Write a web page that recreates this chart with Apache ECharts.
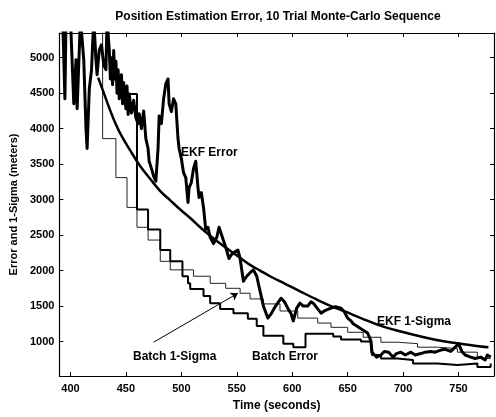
<!DOCTYPE html>
<html>
<head>
<meta charset="utf-8">
<script src="https://cdn.jsdelivr.net/npm/echarts@6/dist/echarts.min.js"></script>
<style>
  html, body { margin: 0; padding: 0; background: #fff; }
  #chart { width: 496px; height: 417px; }
</style>
</head>
<body>
<div id="chart"></div>
<script>
// tick values
var xTicks = [400, 450, 500, 550, 600, 650, 700, 750];
var yTicks = [1000, 1500, 2000, 2500, 3000, 3500, 4000, 4500, 5000];

// EKF error (noisy)
var ekfErrT = [393, 395, 396, 400, 403, 405, 406, 409, 412, 414,
  415, 417, 419, 421, 423, 424, 426, 428, 430, 432,
  433, 435, 436, 437, 438, 439, 440, 441, 442, 443,
  444, 446, 447, 448, 450, 451, 452, 453, 455, 457,
  459, 461, 462, 464, 466, 468, 470, 471, 473, 475,
  477, 479, 480, 482, 484, 486, 488, 489, 491, 493,
  495, 497, 498, 500, 502, 504, 506, 507, 509, 511,
  513, 515, 516, 518, 520, 522, 524, 526, 529, 532,
  534, 537, 540, 543, 545, 548, 551, 553, 556, 559,
  562, 565, 568, 571, 574, 578, 581, 585, 590, 593,
  596, 599, 601, 604, 607, 610, 614, 617, 619, 623,
  626, 630, 635, 639, 644, 647, 650, 653, 655, 662,
  668, 671, 672, 676, 680, 683, 687, 691, 694, 698,
  702, 707, 711, 716, 720, 725, 729, 734, 738, 743,
  747, 750, 753, 756, 761, 765, 770, 774, 776, 779];
var ekfErr = [5550, 4420, 5550, 5550, 4350, 4970, 4280, 5550, 4970, 4000,
  3720, 4560, 4830, 5550, 4970, 4760, 5110, 5180, 4900, 4830,
  5550, 5110, 4700, 5000, 4620, 5100, 4700, 4950, 4500, 4830,
  4420, 4760, 4350, 4650, 4280, 4600, 4200, 4490, 4220, 4400,
  4150, 4070, 4210, 4000, 4250, 3860, 3720, 3540, 3440, 3330,
  3260, 3720, 4180, 4070, 4420, 4630, 4700, 4350, 4240, 4420,
  4350, 3860, 3720, 3580, 3380, 3310, 2960, 3170, 3240, 3440,
  3540, 3170, 3030, 3100, 2890, 2580, 2610, 2470, 2380, 2470,
  2610, 2470, 2330, 2170, 2220, 2260, 2290, 2170, 1850, 1920,
  1970, 2010, 1920, 1710, 1500, 1330, 1390, 1500, 1610, 1560,
  1470, 1390, 1290, 1470, 1540, 1500, 1500, 1560, 1540, 1460,
  1400, 1440, 1470, 1490, 1470, 1420, 1330, 1290, 1250, 1180,
  1120, 1010, 850, 780, 810, 860, 850, 780, 830, 850,
  810, 850, 810, 830, 850, 860, 850, 880, 890, 860,
  920, 970, 860, 810, 780, 760, 780, 740, 810, 780];

// EKF 1-sigma (smooth)
var ekfSigT = [425, 432, 438, 445, 454, 463, 472, 481, 490, 499,
  508, 517, 526, 535, 544, 553, 562, 571, 580, 594,
  608, 621, 635, 648, 662, 680, 698, 716, 734, 752,
  770, 777];
var ekfSig = [4720, 4420, 4170, 3930, 3690, 3470, 3290, 3120, 2990, 2860,
  2740, 2610, 2490, 2380, 2280, 2180, 2080, 2000, 1920, 1810,
  1700, 1600, 1500, 1420, 1330, 1220, 1140, 1070, 1010, 970,
  930, 920];

// Batch 1-sigma (stepped)
var batchSigT = [420, 429, 441, 451, 460, 470, 481, 490, 511, 526,
  540, 553, 562, 574, 589, 605, 623, 635, 650, 664,
  680, 695, 713, 731, 749, 767, 779];
var batchSig = [5550, 3860, 3310, 2890, 2610, 2430, 2130, 2010, 1920, 1820,
  1750, 1680, 1600, 1530, 1430, 1330, 1260, 1200, 1130, 1060,
  990, 970, 920, 900, 850, 760, 760];

// Batch error (stepped)
var batchErrT = [452, 460, 470, 481, 490, 501, 506, 508, 520, 526,
  535, 547, 560, 568, 574, 592, 601, 612, 637, 644,
  662, 671, 672, 680, 695, 709, 731, 749, 767, 779];
var batchErr = [4490, 2860, 2580, 2290, 2130, 1920, 1820, 1740, 1640, 1540,
  1460, 1400, 1320, 1220, 1080, 970, 920, 1110, 1070, 1030,
  1000, 920, 810, 760, 740, 690, 670, 690, 640, 690];

// annotation arrow (Batch 1-Sigma)
var arrowFrom = [475, 990];
var arrowTo = [551, 1680];

var FONT = 'Liberation Sans, Arial, sans-serif';

function pairs(xs, ys) {
  var out = [];
  for (var i = 0; i < xs.length; i++) {
    out.push([xs[i], ys[i]]);
  }
  return out;
}

function plain(v) {
  return String(v);
}

function makeX(pos, showLabel) {
  return {
    type: 'value', position: pos, min: 390, max: 782,
    axisLine: { onZero: false, lineStyle: { color: '#000', width: 1.2 } },
    axisTick: { inside: true, length: 4, customValues: xTicks, lineStyle: { color: '#000' } },
    axisLabel: { show: showLabel, customValues: xTicks, formatter: plain, color: '#000', fontSize: 11, fontWeight: 'bold', fontFamily: FONT, margin: 7 },
    splitLine: { show: false }
  };
}

function makeY(pos, showLabel) {
  return {
    type: 'value', position: pos, min: 514, max: 5348,
    axisLine: { onZero: false, lineStyle: { color: '#000', width: 1.2 } },
    axisTick: { inside: true, length: 4, customValues: yTicks, lineStyle: { color: '#000' } },
    axisLabel: { show: showLabel, customValues: yTicks, formatter: plain, color: '#000', fontSize: 11, fontWeight: 'bold', fontFamily: FONT, margin: 5 },
    splitLine: { show: false }
  };
}

var xBottom = makeX('bottom', true);
xBottom.name = 'Time (seconds)';
xBottom.nameLocation = 'middle';
xBottom.nameGap = 24;
xBottom.nameTextStyle = { color: '#000', fontSize: 12, fontWeight: 'bold', fontFamily: FONT };

var yLeft = makeY('left', true);
yLeft.name = 'Error and 1-Sigma (meters)';
yLeft.nameLocation = 'middle';
yLeft.nameGap = 40;
yLeft.nameTextStyle = { color: '#000', fontSize: 11, fontWeight: 'bold', fontFamily: FONT };

function note(text, x, y, align) {
  return {
    type: 'text', x: x, y: y,
    style: { text: text, font: 'bold 12px ' + FONT, fill: '#000', textAlign: align, textVerticalAlign: 'middle' }
  };
}

var chart = echarts.init(document.getElementById('chart'));
chart.setOption({
  animation: false,
  backgroundColor: '#fff',
  grid: { left: 59, right: 2, top: 33, bottom: 36 },
  xAxis: [xBottom, makeX('top', false)],
  yAxis: [yLeft, makeY('right', false)],
  graphic: [
    note('Position Estimation Error, 10 Trial Monte-Carlo Sequence', 278, 17, 'center'),
    note('EKF Error', 181, 153, 'left'),
    note('EKF 1-Sigma', 377, 322, 'left'),
    note('Batch 1-Sigma', 133, 357, 'left'),
    note('Batch Error', 252, 357, 'left')
  ],
  series: [
    {
      name: 'Batch 1-Sigma', type: 'line', step: 'end', showSymbol: false,
      data: pairs(batchSigT, batchSig),
      lineStyle: { color: '#222', width: 1 },
      markLine: {
        silent: true, symbol: ['none', 'arrow'], symbolSize: 7,
        label: { show: false },
        lineStyle: { color: '#000', width: 1, type: 'solid' },
        data: [[{ coord: arrowFrom }, { coord: arrowTo }]]
      }
    },
    {
      name: 'Batch Error', type: 'line', step: 'end', showSymbol: false,
      data: pairs(batchErrT, batchErr),
      lineStyle: { color: '#000', width: 2 }
    },
    {
      name: 'EKF 1-Sigma', type: 'line', smooth: 0.4, showSymbol: false,
      data: pairs(ekfSigT, ekfSig),
      lineStyle: { color: '#000', width: 2.5 }
    },
    {
      name: 'EKF Error', type: 'line', showSymbol: false,
      data: pairs(ekfErrT, ekfErr),
      lineStyle: { color: '#000', width: 3, join: 'round' }
    }
  ]
});
</script>
</body>
</html>
